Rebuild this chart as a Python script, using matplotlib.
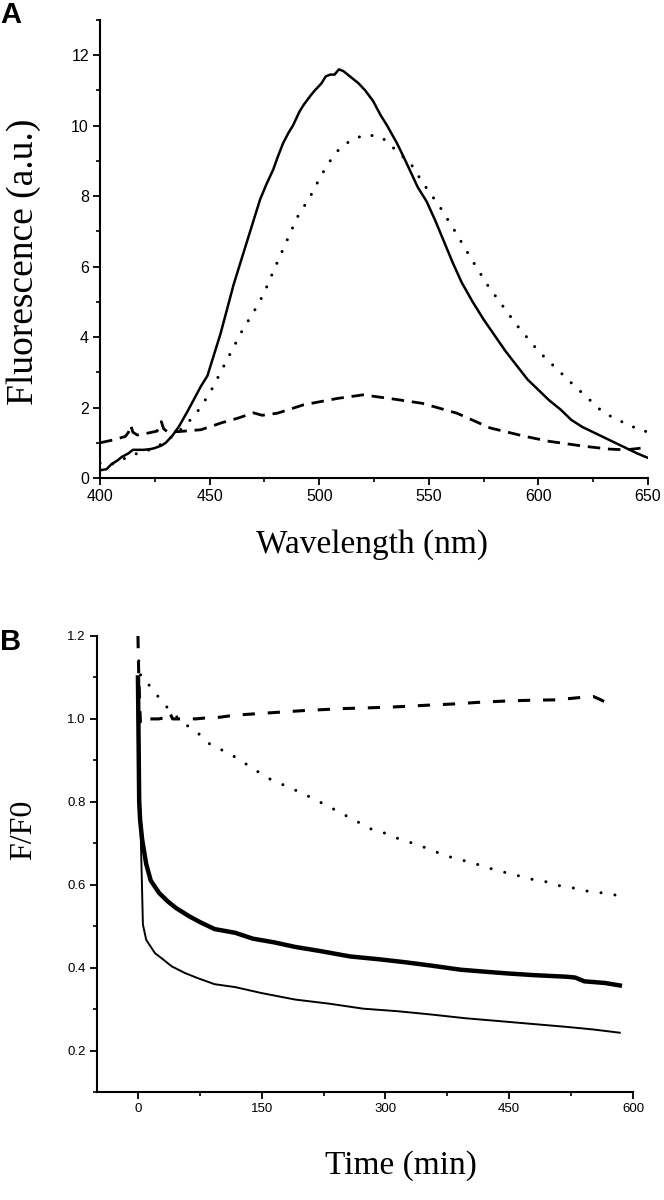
import matplotlib
matplotlib.use("Agg")
import matplotlib.pyplot as plt
from matplotlib.ticker import MultipleLocator, FormatStrFormatter

# ---------------- Panel A data: emission spectra ----------------
wl_solid = [400, 403, 405, 408, 410, 413, 415, 418, 420, 423, 425, 428, 430, 433, 436,
            440, 443, 446, 449, 452, 455, 458, 461, 464, 467, 470, 473, 476, 479, 481,
            483.5, 486, 488, 491, 493, 496, 498, 501, 503, 505, 507, 509, 511, 513, 515,
            518, 521, 524.6, 528, 531, 535.5, 539, 542, 545, 549, 553, 557, 561, 565,
            570, 575, 580, 585, 590, 595, 600, 605, 610, 615, 620, 625, 630, 635, 640,
            645, 650]
fl_solid = [0.22, 0.25, 0.38, 0.5, 0.6, 0.7, 0.8, 0.8, 0.8, 0.82, 0.85, 0.92, 1.0, 1.2, 1.46,
            1.9, 2.25, 2.6, 2.9, 3.5, 4.1, 4.8, 5.5, 6.1, 6.7, 7.3, 7.9, 8.35, 8.75, 9.1,
            9.5, 9.8, 10.0, 10.4, 10.6, 10.85, 11.0, 11.2, 11.4, 11.45, 11.45, 11.6, 11.55, 11.45, 11.35,
            11.2, 11.0, 10.7, 10.3, 10.0, 9.5, 9.05, 8.65, 8.25, 7.85, 7.3, 6.7, 6.1, 5.55,
            5.0, 4.5, 4.05, 3.6, 3.2, 2.8, 2.5, 2.2, 1.95, 1.65, 1.45, 1.3, 1.15, 1.0, 0.85,
            0.7, 0.57]

wl_dot = [400, 405, 410, 415, 420, 425, 430, 435, 440, 445, 450, 455, 460, 465, 470,
          474.5, 480, 485, 490, 496, 501, 506, 510, 515, 520, 525, 530, 535, 542, 547,
          555, 562, 569, 576.5, 580, 590, 600, 610, 616, 622, 628, 633, 638, 644, 650]
fl_dot = [0.42, 0.38, 0.52, 0.66, 0.75, 0.85, 1.04, 1.27, 1.56, 1.93, 2.4, 3.0, 3.6, 4.2, 4.7,
          5.2, 6.0, 6.7, 7.4, 8.0, 8.6, 9.1, 9.4, 9.6, 9.72, 9.72, 9.6, 9.3, 8.9, 8.4,
          7.7, 7.0, 6.26, 5.5, 5.2, 4.35, 3.6, 3.0, 2.64, 2.3, 1.95, 1.75, 1.6, 1.43, 1.3]

wl_dash = [400, 406, 411.6, 413, 414, 415, 417, 421.5, 426, 427, 428, 429, 431, 436.4, 446,
           450, 455.6, 463, 470, 474, 481, 493, 508.5, 520, 531.8, 547, 562.8, 578, 594,
           605, 621, 632.5, 640, 650]
fl_dash = [1.0, 1.08, 1.18, 1.3, 1.5, 1.3, 1.22, 1.27, 1.33, 1.45, 1.6, 1.4, 1.3, 1.32, 1.37,
           1.45, 1.57, 1.7, 1.85, 1.78, 1.84, 2.08, 2.26, 2.36, 2.26, 2.12, 1.84, 1.42, 1.18,
           1.04, 0.9, 0.82, 0.8, 0.87]

# ---------------- Panel B data: time courses F/F0 ----------------
t_thick = [0, 1.5, 2.6, 5, 10, 15.5, 25.7, 36, 46, 62, 77, 93, 118, 139, 165, 190.5, 221,
           257, 293, 324, 355, 391, 422, 448, 479, 520, 530, 541, 566, 584]
r_thick = [1.10, 0.80, 0.757, 0.71, 0.65, 0.61, 0.58, 0.56, 0.544, 0.524, 0.508, 0.493, 0.484,
           0.47, 0.461, 0.45, 0.44, 0.427, 0.42, 0.413, 0.405, 0.395, 0.39, 0.386, 0.382,
           0.378, 0.376, 0.367, 0.363, 0.357]

t_thin = [0, 3, 6, 10, 20.6, 31, 41, 57, 72, 93, 118, 149, 190.5, 232, 273, 314, 355,
          396.5, 438, 479, 520, 551, 584]
r_thin = [1.10, 0.75, 0.504, 0.467, 0.435, 0.419, 0.403, 0.387, 0.375, 0.36, 0.353, 0.339,
          0.323, 0.313, 0.301, 0.295, 0.287, 0.278, 0.271, 0.264, 0.257, 0.251, 0.243]

t_dot = [1, 1.7, 3.7, 15, 27, 41, 57.6, 73.7, 90, 107, 125, 142.6, 160, 200, 230, 265, 283,
         300, 317, 335, 353, 370, 387, 404, 422, 440, 457, 475, 493, 510, 528, 546, 564, 582]
r_dot = [1.14, 1.13, 1.098, 1.079, 1.047, 1.015, 0.987, 0.964, 0.934, 0.921, 0.899, 0.876,
         0.855, 0.82, 0.79, 0.753, 0.734, 0.724, 0.71, 0.699, 0.686, 0.672, 0.662, 0.654,
         0.642, 0.632, 0.624, 0.614, 0.608, 0.598, 0.592, 0.584, 0.58, 0.574]

t_dash = [0, 1, 3, 5, 10, 15, 25, 33, 38, 42, 50, 60, 70, 80, 95, 110, 125, 140, 155, 200,
          250, 300, 322, 350, 382, 413, 444, 475, 507, 538, 552, 560, 567, 574]
r_dash = [1.2, 1.10, 0.99, 0.985, 0.995, 1.0, 1.0, 1.003, 1.017, 1.0, 1.0, 1.001, 1.0, 1.002,
          1.003, 1.007, 1.01, 1.012, 1.014, 1.02, 1.025, 1.028, 1.03, 1.033, 1.036, 1.04,
          1.043, 1.045, 1.046, 1.052, 1.054, 1.047, 1.04, 1.036]

A_xticks = [400, 450, 500, 550, 600, 650]
B_xticks = [0, 150, 300, 450, 600]

SANS = ["Liberation Sans", "DejaVu Sans"]
SERIF = ["Liberation Serif", "DejaVu Serif"]

fig = plt.figure(figsize=(6.64, 12.0), dpi=100)
W, H = 664.0, 1200.0


def axes_px(left, top, right, bottom):
    return fig.add_axes([left / W, 1 - bottom / H, (right - left) / W, (bottom - top) / H])


def style(ax, fs):
    for s in ("top", "right"):
        ax.spines[s].set_visible(False)
    for s in ("left", "bottom"):
        ax.spines[s].set_linewidth(1.5)
    ax.tick_params(which="major", direction="out", length=5, width=1.3, labelsize=fs, pad=3)
    ax.tick_params(which="minor", direction="out", length=3, width=1.2)
    for lab in ax.get_xticklabels() + ax.get_yticklabels():
        lab.set_family(SANS)


# ---------------- Panel A ----------------
axA = axes_px(100, 20, 648, 478)
axA.plot(wl_solid, fl_solid, color="black", lw=1.8, solid_joinstyle="round")
axA.plot(wl_dot, fl_dot, color="black", lw=2.2, linestyle=(0, (0.01, 4.2)),
         dash_capstyle="round")
axA.plot(wl_dash, fl_dash, color="black", lw=2.0, linestyle=(0, (4.5, 2.8)))
axA.set_xlim(400, 650)
axA.set_ylim(0, 13)
axA.set_xticks(A_xticks)
axA.xaxis.set_minor_locator(MultipleLocator(25))
axA.yaxis.set_major_locator(MultipleLocator(2))
axA.yaxis.set_minor_locator(MultipleLocator(1))
style(axA, 11.5)

# ---------------- Panel B ----------------
axB = axes_px(96.7, 636, 633, 1092)
axB.plot(t_thin, r_thin, color="black", lw=1.4)
axB.plot(t_thick, r_thick, color="black", lw=3.2)
axB.plot(t_dot, r_dot, color="black", lw=2.2, linestyle=(0, (0.01, 4.6)),
         dash_capstyle="round")
axB.plot(t_dash, r_dash, color="black", lw=2.2, linestyle=(0, (4.0, 4.2)))
axB.set_xlim(-50, 600)
axB.set_ylim(0.1, 1.2)
axB.set_xticks(B_xticks)
axB.xaxis.set_minor_locator(MultipleLocator(75))
axB.yaxis.set_major_locator(MultipleLocator(0.2))
axB.yaxis.set_minor_locator(MultipleLocator(0.1))
axB.yaxis.set_major_formatter(FormatStrFormatter("%.1f"))
style(axB, 9.5)

# ---------------- Labels ----------------
fig.text(0 / W, 1 - 15 / H, "A", family=SANS, fontsize=21, fontweight="bold",
         ha="left", va="center")
fig.text(0 / W, 1 - 642 / H, "B", family=SANS, fontsize=21, fontweight="bold",
         ha="left", va="center")
fig.text(24 / W, 1 - 262 / H, "Fluorescence (a.u.)", family=SERIF, fontsize=27,
         rotation=90, ha="center", va="center")
fig.text(372 / W, 1 - 545 / H, "Wavelength (nm)", family=SERIF, fontsize=24,
         ha="center", va="center")
fig.text(24 / W, 1 - 830 / H, "F/F0", family=SERIF, fontsize=23,
         rotation=90, ha="center", va="center")
fig.text(401 / W, 1 - 1166 / H, "Time (min)", family=SERIF, fontsize=24,
         ha="center", va="center")

fig.savefig("out.png", dpi=100)
